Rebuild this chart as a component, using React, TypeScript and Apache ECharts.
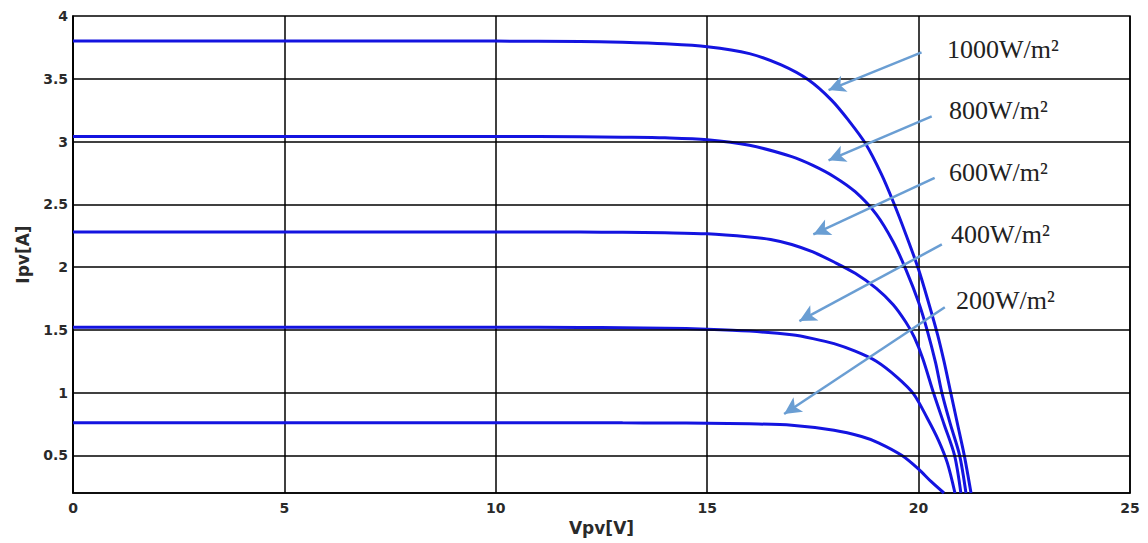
import React, { useEffect, useRef } from "react";
import * as echarts from "echarts";

// I-V curves: [Vpv (V), Ipv (A)]
const curve1000: [number, number][] = [
  [0, 3.8], [10, 3.8], [12, 3.797], [13, 3.79], [14, 3.778], [15, 3.755], [16, 3.70],
  [16.75, 3.61], [17.4, 3.49], [17.94, 3.33], [18.34, 3.17], [18.75, 2.98],
  [19.12, 2.74], [19.4, 2.52], [19.7, 2.26], [20.0, 1.98], [20.25, 1.7],
  [20.45, 1.46], [20.6, 1.25], [20.76, 1.0], [20.92, 0.75], [21.08, 0.5], [21.24, 0.2],
];
const curve800: [number, number][] = [
  [0, 3.04], [10, 3.04], [12, 3.038], [13, 3.035], [14, 3.03], [15, 3.015], [16, 2.97],
  [17, 2.88], [17.5, 2.81], [18, 2.72], [18.5, 2.6], [19, 2.42], [19.4, 2.2],
  [19.7, 1.98], [20.0, 1.72], [20.2, 1.5], [20.4, 1.24], [20.55, 1.0], [20.75, 0.75],
  [20.97, 0.5], [21.12, 0.2],
];
const curve600: [number, number][] = [
  [0, 2.28], [10, 2.28], [12, 2.279], [13, 2.277], [14, 2.273], [15, 2.265], [16, 2.24],
  [16.5, 2.22], [17, 2.18], [17.5, 2.12], [18, 2.04], [18.5, 1.95], [19, 1.83],
  [19.4, 1.7], [19.7, 1.56], [19.9, 1.44], [20.1, 1.27], [20.35, 1.0], [20.6, 0.75],
  [20.85, 0.5], [21.0, 0.2],
];
const curve400: [number, number][] = [
  [0, 1.52], [10, 1.52], [12, 1.519], [13, 1.517], [14, 1.513], [15, 1.505], [16, 1.49],
  [17, 1.46], [17.5, 1.43], [18, 1.39], [18.5, 1.33], [19.0, 1.25], [19.5, 1.12],
  [19.88, 0.99], [20.2, 0.8], [20.47, 0.62], [20.68, 0.44], [20.86, 0.2],
];
const curve200: [number, number][] = [
  [0, 0.76], [10, 0.76], [12, 0.76], [13, 0.759], [14, 0.758], [15, 0.756], [16, 0.751],
  [17, 0.74], [18, 0.7], [18.65, 0.65], [19.05, 0.6], [19.6, 0.5], [20.0, 0.39],
  [20.3, 0.29], [20.6, 0.2],
];

const curves = [curve1000, curve800, curve600, curve400, curve200];
const irradianceLabels = ["1000W/m²", "800W/m²", "600W/m²", "400W/m²", "200W/m²"];

// annotation arrows: [start, tip] in data coords
const arrowLines: [[number, number], [number, number]][] = [
  [[20.07, 3.71], [17.87, 3.41]],
  [[20.31, 3.2], [17.87, 2.85]],
  [[20.38, 2.71], [17.51, 2.26]],
  [[20.55, 2.18], [17.18, 1.57]],
  [[20.62, 1.68], [16.82, 0.83]],
];
// label anchor positions (pixels, left x / middle y)
const labelPos: [number, number][] = [
  [947, 49], [949, 110], [949, 172], [951, 234], [956, 300],
];

const yTickValues = [0.5, 1, 1.5, 2, 2.5, 3, 3.5, 4];
const yGridValues = [0.5, 1, 1.5, 2, 2.5, 3, 3.5];

export default function App() {
  const ref = useRef<HTMLDivElement>(null);
  useEffect(() => {
    if (!ref.current) return;
    const chart = echarts.init(ref.current, null, { renderer: "svg" });
    const curveColor = "#1414e0";
    const tickFont = { fontFamily: "DejaVu Sans", fontWeight: "bold", fontSize: 14, color: "#2a2a2a" };
    const nameFont = { fontFamily: "DejaVu Sans", fontWeight: "bold", fontSize: 17, color: "#2a2a2a" };
    const series: any[] = [
      {
        type: "line",
        data: [],
        z: 1,
        silent: true,
        markLine: {
          silent: true,
          symbol: ["none", "none"],
          label: { show: false },
          lineStyle: { color: "#000", width: 1.5, type: "solid" },
          data: yGridValues.map((v) => ({ yAxis: v })),
        },
      },
      ...curves.map((c, i) => ({
        type: "line",
        name: irradianceLabels[i],
        data: c,
        showSymbol: false,
        smooth: 0.3,
        z: 3,
        lineStyle: { color: curveColor, width: 3 },
        itemStyle: { color: curveColor },
      })),
      {
        type: "line",
        data: [],
        z: 5,
        silent: true,
        markLine: {
          silent: true,
          symbol: ["none", "arrow"],
          symbolSize: [13, 17],
          label: { show: false },
          lineStyle: { color: "#6a9ed3", width: 2.5, type: "solid" },
          data: arrowLines.map(([s, t]) => [{ coord: s }, { coord: t }]),
        },
      },
    ];
    chart.setOption({
      animation: false,
      backgroundColor: "#fff",
      grid: {
        left: 73, top: 16, right: 18, bottom: 50,
        show: true, borderColor: "#000", borderWidth: 1.5,
        containLabel: false,
        outerBoundsMode: "none",
      },
      xAxis: {
        type: "value",
        min: 0, max: 25, interval: 5,
        name: "Vpv[V]",
        nameLocation: "middle",
        nameGap: 21,
        nameTextStyle: nameFont,
        axisLine: { lineStyle: { color: "#000", width: 1.5 } },
        axisTick: { show: false },
        axisLabel: { ...tickFont, margin: 8 },
        splitLine: { show: true, lineStyle: { color: "#000", width: 1.5 } },
      },
      yAxis: {
        type: "value",
        min: 0.2, max: 4,
        name: "Ipv[A]",
        nameLocation: "middle",
        nameGap: 42,
        nameRotate: 90,
        nameTextStyle: nameFont,
        axisLine: { show: true, lineStyle: { color: "#000", width: 1.5 } },
        axisTick: { show: false },
        axisLabel: { ...tickFont, customValues: yTickValues, margin: 5 },
        splitLine: { show: false },
      },
      graphic: irradianceLabels.map((t, i) => ({
        type: "text",
        x: labelPos[i][0],
        y: labelPos[i][1],
        z: 10,
        style: {
          text: t,
          fontFamily: "Liberation Serif",
          fontSize: 26,
          fill: "#222",
          verticalAlign: "middle",
          align: "left",
        },
      })),
      series,
    });
    return () => chart.dispose();
  }, []);
  return (
    <div
      ref={ref}
      style={{ position: "fixed", left: 0, top: 0, width: 1148, height: 543 }}
    />
  );
}
